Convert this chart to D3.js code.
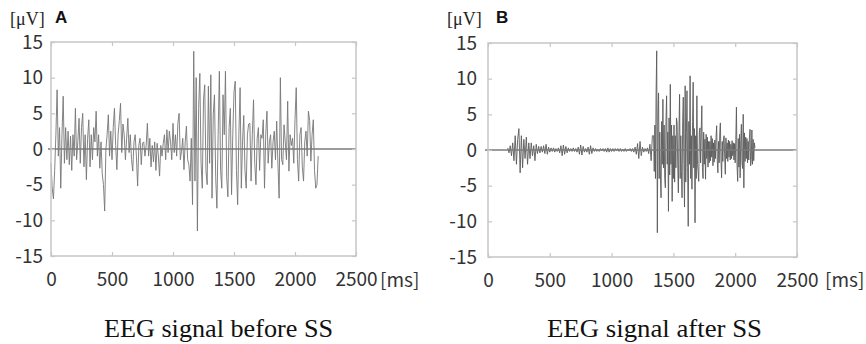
<!DOCTYPE html>
<html>
<head>
<meta charset="utf-8">
<script src="https://cdn.jsdelivr.net/npm/d3@7"></script>
<style>
  body { margin: 0; background: #fff; }
  svg { display: block; }
  .tick text { font-family: 'Noto Sans CJK JP', 'Noto Sans', sans-serif; font-size: 19px; fill: #333; }
  .unit { font-family: 'Liberation Serif', 'DejaVu Serif', serif; font-size: 18px; fill: #222; }
  .letter { font-family: 'Liberation Sans', Arial, sans-serif; font-size: 17px; font-weight: bold; fill: #111; }
  .ms { font-family: 'Noto Sans CJK JP', 'Noto Sans', sans-serif; font-size: 19px; fill: #333; }
  .title { font-family: 'Liberation Serif', 'DejaVu Serif', serif; font-size: 26px; fill: #111; }
</style>
</head>
<body>
<div id="chart"></div>
<script>
// tick values
const xTicks = [0, 500, 1000, 1500, 2000, 2500];
const yTicks = [-15, -10, -5, 0, 5, 10, 15];

// panel A: EEG signal before SS, µV, one value every 10 ms from 0 ms
const startA = 0, stepA = 10;
const signalA = [
  -2, -5.5, -7, -3, 2, 8.3, -1, 3, -5.5, 2,
  7.4, -2, 3, -1.5, 2.5, -2.2, 1.8, -3, 2, -1,
  5.7, -1.5, 1, 4.3, -2, 3, 5, -2.5, 2, -4.3,
  1.5, 4.1, -2.5, 2, -1.5, 3, 1, 5.3, -1, 2,
  -2.7, 1, -3.5, -5, -8.7, 0, 2, 4.8, -1, 2.5,
  -1.5, 3, 5.7, 0.5, -2.9, 2, 4, 6.4, -0.5, 3.5,
  2, -1.5, 1.5, 4.3, -0.5, 2, -1.5, -3.1, 1, 2,
  -1, -5.2, 0.5, 1.5, -2.2, 0.8, 1, -1, 0.5, 3.6,
  -1, 1.5, -2.5, 0.5, -1.8, 1, -3, 0.8, -1, -3.8,
  0.5, -1, 0.8, 2, -1.5, 2.7, -0.5, 2.5, 1, -1.5,
  3.6, -0.5, 2, -1, 3.6, 5, -1.5, -0.3, 1.5, -2.9,
  1, 3.2, -1.5, -2.2, -4.5, 1.5, -7.8, 13.7, -4.5, 10,
  -11.5, 5.7, 10.6, -2, -5.5, 6.9, 9, -3, -5, 8.8,
  -2, 10.4, -6.9, 4.8, 7.6, -4, -8.3, 2, 10.9, -3,
  -5.5, 7.6, 2, 10.9, -4, -6.7, 3, 5.7, -6.4, 2,
  8, 9.5, -3, -7.8, 2, 8.6, -5.5, 1, 4.7, -3,
  -5.5, 2, 3.5, 3.6, -4.5, 2, 6.9, -2, -5, 1.5,
  3, -3, 2, 1.5, 4.1, -5.5, 2, 5.3, -2, 1,
  2, -2.7, 1, 2.5, -1.5, 3.9, -2, -6.9, 10, -1.5,
  -2.2, 3.4, 1, -1.5, 6.7, -3.1, 2, 0.5, 1.5, -2,
  4.1, 8.6, -1.5, -4.5, 2, 3, -2.5, -4.5, 1, 2.5,
  -1, 5.3, 4, -1.7, 2, 4.1, -3, -5.5, -5, -1
];

// panel B, quiet part: one value every 10 ms from 160 ms to 1330 ms
const startB = 160, stepB = 10;
const signalB = [
  0.3, -0.4, 0.6, -0.8, 1, -1.5, 2, -2, 1.5, 3,
  -3.2, 2, -2.5, 1.5, -1.2, 1.8, -2, 1, -1.2, 1,
  -0.8, 0.6, -1.5, 0.8, -0.5, 0.5, -0.4, 0.5, -0.3, 0.6,
  -0.5, 0.8, -0.6, 0.4, -0.3, 0.3, -0.2, 0.3, -0.3, 0.2,
  -0.2, 0.3, -0.4, 0.6, -0.8, 0.7, -0.6, 0.5, -0.4, 0.3,
  -0.2, 0.2, -0.2, 0.3, -0.2, 0.2, -0.3, 0.4, -0.6, 0.7,
  -0.7, 0.5, -0.3, 0.2, -0.3, 0.4, -0.6, 0.6, -0.5, 0.3,
  -0.2, 0.2, -0.2, 0.1, -0.2, 0.2, -0.1, 0.2, -0.2, 0.2,
  -0.3, 0.3, -0.3, 0.2, -0.2, 0.2, -0.2, 0.2, -0.1, 0.2,
  -0.2, 0.2, -0.2, 0.1, -0.2, 0.2, -0.2, 0.1, -0.1, 0.2,
  -0.2, 0.2, -0.3, 0.4, -0.6, 0.9, -1.2, 1.2, -0.8, 0.4,
  -0.3, 0.2, -0.2, 0.3, -0.5, 0.8, -1.5, 2
];

// panel B, burst: one value every 5 ms from 1340 ms to 2160 ms
const startBurst = 1340, stepBurst = 5;
const burstB = [
  2, -3, 3.5, -4, 8, 13.9, -11.6, 5, 8, -4,
  2.5, -3.5, -6.7, 4, -2, 7.1, -2.5, 3.5, -4, -5.3,
  4, 7.6, -2, 2.5, -8.6, 4.5, -3.5, 9.2, -2, 3.5,
  -7.2, 2, -4, 3.5, -4.5, 2, -2.5, 4.5, 3.8, -2,
  -6, 2.5, 7.8, -4, 2, -3, -6.7, 4, 7.4, -2,
  -8, 9, -4.5, 2.5, 8.3, -2.5, -10.7, 4, -2, 10.4,
  -4, 2, -5.5, 4, 9.5, -2.5, 3, -10.2, 2, -4,
  7.6, -2, -3, -4.4, 2.5, 3.1, -1.8, 2.5, 6.2, -2.5,
  -4, 2.5, -2, 1.5, -4.1, 2.2, -1.2, 1.8, -2.4, 1.2,
  -1.8, 1.2, -1.5, 2, -1, 1.6, -2.2, 1, -1.7, 1.4,
  -1.2, 1.8, 3.4, -1.5, -3.2, 1.2, -1.8, 2.4, 3.8, -1.4,
  -3.9, 1.2, -1.6, 1.4, 2, -1, -3.4, 1.7, -1.2, 1,
  -1.6, 1.4, -1, 1.2, -1.4, 0.8, -1.2, 1.3, -0.8, 1,
  -1.4, 0.9, -1.8, 1.5, 6, -2.2, -4.4, 1.6, -2.4, 2.2,
  -3.9, 1.3, 3.6, -1.8, -2.6, 5, -5.3, 2.4, -1.6, 1.8,
  -1.2, 1.6, -1.8, 1.2, -1.4, 1.7, 2.9, -2.2, -1.3, 2.8,
  -2, 1.5, -1.5, 1, 0.3
];

const width = 866, height = 344;
const svg = d3.select('#chart').append('svg')
  .attr('width', width)
  .attr('height', height);

const toPoints = (vals, start, step) => vals.map((v, i) => ({ t: start + i * step, v }));

function drawPanel(p) {
  const x = d3.scaleLinear().domain([0, 2500]).range([p.left, p.right]);
  const y = d3.scaleLinear().domain([-15, 15]).range([p.bottom, p.top]);
  const g = svg.append('g');

  const frameColor = '#c6c6c6';

  // trace
  const line = d3.line().x(d => x(d.t)).y(d => y(d.v));
  g.append('path')
    .datum(p.points)
    .attr('d', line)
    .attr('fill', 'none')
    .attr('stroke', p.color)
    .attr('stroke-width', 0.9);

  // zero line
  g.append('line')
    .attr('x1', x(0) - 3).attr('x2', x(2500))
    .attr('y1', y(0)).attr('y2', y(0))
    .attr('stroke', '#7a7a7a')
    .attr('stroke-width', 1.6);

  // frame
  g.append('rect')
    .attr('x', p.left).attr('y', p.top)
    .attr('width', p.right - p.left).attr('height', p.bottom - p.top)
    .attr('fill', 'none')
    .attr('stroke', frameColor)
    .attr('stroke-width', 1.5);

  // axes (ticks pointing inward)
  const ax = (sel) => { sel.select('.domain').remove(); sel.selectAll('line').attr('stroke', frameColor).attr('stroke-width', 1.2); };

  g.append('g')
    .attr('transform', `translate(0,${p.bottom})`)
    .call(d3.axisBottom(x).tickValues(xTicks).tickSize(-4).tickPadding(p.xPad).tickFormat(d => String(d)))
    .call(ax);
  g.append('g')
    .attr('transform', `translate(0,${p.top})`)
    .call(d3.axisTop(x).tickValues(xTicks).tickSize(-4).tickFormat(''))
    .call(ax);
  g.append('g')
    .attr('transform', `translate(${p.left},0)`)
    .call(d3.axisLeft(y).tickValues(yTicks).tickSize(-4).tickPadding(p.yPad).tickFormat(d => String(d)))
    .call(ax);
  g.append('g')
    .attr('transform', `translate(${p.right},0)`)
    .call(d3.axisRight(y).tickValues(yTicks).tickSize(-4).tickFormat(''))
    .call(ax);
  g.selectAll('.tick text').attr('fill', '#333');

  // labels
  g.append('text').attr('class', 'unit').attr('x', p.unitX).attr('y', 25).text('[μV]');
  g.append('text').attr('class', 'letter').attr('x', p.letterX).attr('y', 23).text(p.letter);
  g.append('text').attr('class', 'ms').attr('x', p.msX).attr('y', 287).text('[ms]');
  g.append('text').attr('class', 'title')
    .attr('x', p.titleX).attr('y', 337)
    .attr('textLength', p.titleW).attr('lengthAdjust', 'spacingAndGlyphs')
    .text(p.title);
}

drawPanel({
  points: toPoints(signalA, startA, stepA), color: '#767676',
  left: 51, right: 356, top: 42, bottom: 256,
  xPad: 17, yPad: 8,
  unitX: 10, letterX: 55, letter: 'A', msX: 380,
  title: 'EEG signal before SS', titleX: 104, titleW: 229
});

drawPanel({
  points: toPoints(signalB, startB, stepB).concat(toPoints(burstB, startBurst, stepBurst)),
  color: '#5a5a5a',
  left: 488, right: 797, top: 43, bottom: 257,
  xPad: 17, yPad: 11,
  unitX: 447, letterX: 496, letter: 'B', msX: 825,
  title: 'EEG signal after SS', titleX: 547, titleW: 215
});
</script>
</body>
</html>
